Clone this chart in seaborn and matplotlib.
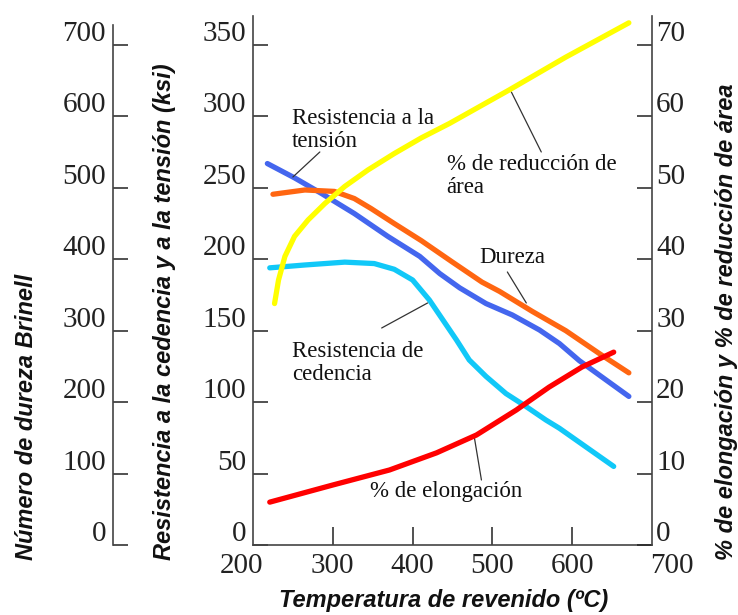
import matplotlib
matplotlib.use("Agg")
import matplotlib.pyplot as plt
import seaborn as sns
from matplotlib.transforms import ScaledTranslation

sns.set_style("ticks")
plt.rcParams['font.family'] = ['Liberation Serif', 'DejaVu Serif']

# values
temp_tension = [218, 252, 286, 327, 369, 409, 434, 459, 492, 525, 559, 584, 609, 671]
tension_ksi = [267, 257, 246, 232, 216, 202, 190, 180, 169, 161, 150.5, 141, 129, 104]

temp_yield = [221, 265, 315, 352, 377, 400, 421, 438, 455, 471, 492, 517, 542, 567, 584, 652]
yield_ksi = [194, 196, 198, 197, 193, 185.5, 171.5, 157.5, 143.5, 129.5, 118, 106, 97, 87.5, 81.7, 55]

temp_hard = [225, 265, 302, 327, 348, 377, 411, 450, 487, 509, 550, 592, 634, 671]
brinell = [491, 497, 495, 485, 471, 450, 426, 396, 368, 355, 327, 300, 268, 241]

temp_elong = [221, 300, 371, 430, 480, 530, 571, 612, 652]
elong_pct = [6.0, 8.4, 10.5, 12.9, 15.4, 18.9, 22.1, 24.9, 27.0]

temp_ra = [227, 232, 240, 252, 269, 290, 315, 344, 377, 411, 446, 521, 592, 671]
ra_pct = [33.8, 37.1, 40.4, 43.2, 45.5, 47.8, 50.2, 52.5, 54.8, 57.0, 59.0, 63.7, 68.3, 73.1]

x_ticks = [200, 300, 400, 500, 600, 700]
ksi_ticks = [0, 50, 100, 150, 200, 250, 300, 350]
brinell_ticks = [0, 100, 200, 300, 400, 500, 600, 700]
pct_ticks = [0, 10, 20, 30, 40, 50, 60, 70]

fig = plt.figure(figsize=(7.38, 6.15), dpi=100)
ax = fig.add_axes([253 / 738, 70 / 615, 399 / 738, 528.6 / 615])
ax.set_xlim(200, 700)
ax.set_ylim(0, 370)

ax3 = ax.twinx()  # brinell, outer left
ax3.set_ylim(0, 740)
ax2 = ax.twinx()  # percent, right
ax2.set_ylim(0, 74)

lw = 3.8
sns.lineplot(x=temp_yield, y=yield_ksi, ax=ax, color='#11c8f8', lw=lw)
sns.lineplot(x=temp_tension, y=tension_ksi, ax=ax, color='#4466ee', lw=lw)
sns.lineplot(x=temp_hard, y=brinell, ax=ax3, color='#ff6611', lw=lw)
sns.lineplot(x=temp_elong, y=elong_pct, ax=ax2, color='#ff0000', lw=lw)
sns.lineplot(x=temp_ra, y=ra_pct, ax=ax2, color='#ffff00', lw=lw)

spine_col = '#444444'
for a in (ax, ax2, ax3):
    for s in a.spines.values():
        s.set_visible(False)
        s.set_color(spine_col)
        s.set_linewidth(1.2)
ax.spines['left'].set_visible(True)
ax.spines['bottom'].set_visible(True)
ax2.spines['right'].set_visible(True)
ax3.spines['left'].set_visible(True)
ax3.spines['left'].set_position(('axes', (113 - 253) / 399))
ax3.spines['left'].set_bounds(0, 728)

tick_kw = dict(direction='in', width=1.1, colors='#222222', labelsize=21)
ax.set_xticks(x_ticks)
ax.tick_params(axis='x', length=13, pad=6, **tick_kw)
ax.set_yticks(ksi_ticks)
ax.tick_params(axis='y', length=11, pad=5, **tick_kw)

ax3.set_yticks(brinell_ticks)
ax3.yaxis.set_ticks_position('left')
ax3.tick_params(axis='y', left=True, right=False, labelleft=True, labelright=False,
                length=11, pad=5, **tick_kw)

ax2.set_yticks(pct_ticks)
ax2.tick_params(axis='y', length=11, pad=3, **tick_kw)

for a in (ax, ax2, ax3):
    a.set_xlabel('')
    a.set_ylabel('')

# first/last x labels without tick marks, nudged outward
xt = ax.xaxis.get_major_ticks()
xt[0].tick1line.set_visible(False)
xt[-1].tick1line.set_visible(False)
xt[0].label1.set_transform(xt[0].label1.get_transform() + ScaledTranslation(-0.11, 0, fig.dpi_scale_trans))
xt[-1].label1.set_transform(xt[-1].label1.get_transform() + ScaledTranslation(0.20, 0, fig.dpi_scale_trans))

# y tick labels sit above their ticks
raise_ = ScaledTranslation(0, 0.14, fig.dpi_scale_trans)
for a in (ax, ax2, ax3):
    for lbl in a.get_yticklabels():
        lbl.set_transform(lbl.get_transform() + raise_)

# curve labels with leader lines
note_kw = dict(ha='left', va='center', fontsize=16.5, linespacing=1.1, color='#111111')
lead_kw = dict(arrowstyle='-', color='#333333', lw=0.9, shrinkA=0, shrinkB=0)
ax.text(248.75, 290.5, 'Resistencia a la\ntensión', **note_kw)
ax.annotate('', xy=(250, 257.6), xytext=(283.75, 275.1), arrowprops=lead_kw)
ax.text(442.5, 258.3, '% de reducción de\nárea', **note_kw)
ax.annotate('', xy=(523.75, 317.1), xytext=(561.25, 275.1), arrowprops=lead_kw)
ax.text(483.75, 200.9, 'Dureza', **note_kw)
ax.annotate('', xy=(542.5, 169.4), xytext=(518.75, 191.1), arrowprops=lead_kw)
ax.text(248.75, 127.4, 'Resistencia de\ncedencia', **note_kw)
ax.annotate('', xy=(418.75, 169.4), xytext=(361.25, 151.9), arrowprops=lead_kw)
ax.text(346.25, 37.1, '% de elongación', **note_kw)
ax.annotate('', xy=(477.5, 74.9), xytext=(486.25, 45.5), arrowprops=lead_kw)

lab_kw = dict(family=['Liberation Sans', 'DejaVu Sans'], fontsize=17, weight='bold',
              style='italic', color='#111111')
fig.text(444 / 738, 1 - 600 / 615, 'Temperatura de revenido (ºC)', ha='center', va='center', **lab_kw)
fig.text(27 / 738, 1 - 560 / 615, 'Número de dureza Brinell', rotation=90, ha='center', va='bottom', **lab_kw)
fig.text(165 / 738, 1 - 560 / 615, 'Resistencia a la cedencia y a la tensión (ksi)', rotation=90,
         ha='center', va='bottom', **lab_kw)
fig.text(727 / 738, 1 - 560 / 615, '% de elongación y % de reducción de área', rotation=90,
         ha='center', va='bottom', **lab_kw)

fig.savefig('out.png', dpi=100)
